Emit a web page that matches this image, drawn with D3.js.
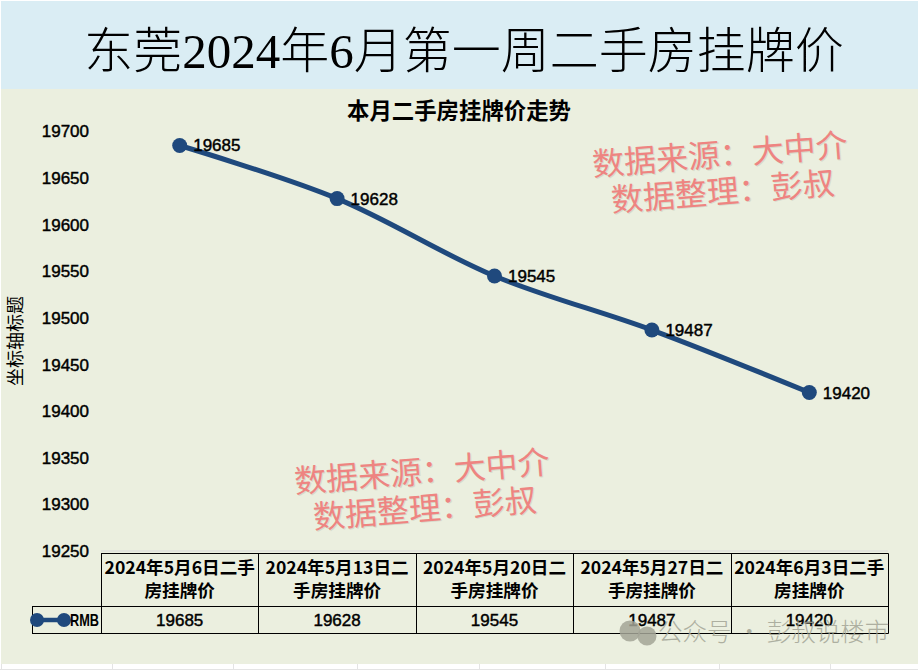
<!DOCTYPE html>
<html><head><meta charset="utf-8">
<script src="https://cdn.jsdelivr.net/npm/d3@7/dist/d3.min.js"></script>
<style>html,body{margin:0;padding:0;background:#fff;overflow:hidden}svg{display:block}</style>
</head><body><svg id="c" width="918" height="671"></svg>
<script>
const chartTitle = "东莞2024年6月第一周二手房挂牌价";
const subTitle = "本月二手房挂牌价走势";
const yAxisTitle = "坐标轴标题";
const seriesName = "RMB";
const categories = ["2024年5月6日二手房挂牌价","2024年5月13日二手房挂牌价","2024年5月20日二手房挂牌价","2024年5月27日二手房挂牌价","2024年6月3日二手房挂牌价"];
const categoryLines = [["2024年5月6日二手","房挂牌价"],["2024年5月13日二","手房挂牌价"],["2024年5月20日二","手房挂牌价"],["2024年5月27日二","手房挂牌价"],["2024年6月3日二手","房挂牌价"]];
const values = [19685,19628,19545,19487,19420];
const yTicks = [19700,19650,19600,19550,19500,19450,19400,19350,19300,19250];
const noteLines = [["数据来源：大中介","数据整理：彭叔"]];

const CJK = "'Noto Sans CJK SC','Noto Sans',sans-serif";
const BLUE = "#1f497d";
const svg = d3.select("#c");

svg.append("rect").attr("x",1).attr("y",1).attr("width",917).attr("height",90).attr("fill","#daedf4");
svg.append("rect").attr("x",1).attr("y",89).attr("width",917).attr("height",575).attr("fill","#ebefdf");
[1,112,233,357,479,605,719,830].forEach(x=>svg.append("line").attr("x1",x+.5).attr("x2",x+.5).attr("y1",664).attr("y2",670).attr("stroke","#e4e4e4"));
svg.append("line").attr("x1",0).attr("x2",918).attr("y1",669.5).attr("y2",669.5).attr("stroke","#e4e4e4");

svg.append("text").attr("x",464).attr("y",68).attr("text-anchor","middle")
  .attr("font-family","'Liberation Serif','Noto Sans CJK SC',serif").attr("font-size",49).attr("font-weight",300)
  .attr("fill","#000").text(chartTitle);
svg.append("text").attr("x",459).attr("y",119).attr("text-anchor","middle")
  .attr("font-family",CJK).attr("font-size",22.4).attr("font-weight",700).attr("fill","#000").text(subTitle);

const x = d3.scaleBand().domain(categories).range([101,888]);
const y = d3.scaleLinear().domain([19250,19700]).range([551,131.5]);

const axis = d3.axisLeft(y).tickValues(yTicks).tickSize(0).tickPadding(0).tickFormat(d3.format("d"));
const gA = svg.append("g").attr("transform","translate(89,0)").call(axis);
gA.select(".domain").remove();
gA.selectAll("text").attr("font-family","'Liberation Sans','Noto Sans',sans-serif").attr("font-size",17)
  .attr("fill","#000").attr("stroke","#000").attr("stroke-width",.45);

svg.append("text").attr("transform","translate(22,341) rotate(-90)").attr("text-anchor","middle")
  .attr("font-family",CJK).attr("font-size",18).attr("fill","#000").text(yAxisTitle);

svg.append("line").attr("x1",101).attr("x2",888).attr("y1",551).attr("y2",551).attr("stroke","#d9d9d9");

const pts = categories.map((c,i)=>[x(c)+x.bandwidth()/2,y(values[i])]);
const line = d3.line().x(d=>d[0]).y(d=>d[1]).curve(d3.curveCatmullRom.alpha(0.5));
svg.append("path").attr("d",line(pts)).attr("fill","none").attr("stroke",BLUE).attr("stroke-width",5).attr("stroke-linecap","round");
svg.selectAll("circle.pt").data(pts).join("circle").attr("class","pt").attr("cx",d=>d[0]).attr("cy",d=>d[1]).attr("r",7.5).attr("fill",BLUE);
svg.selectAll("text.dl").data(pts).join("text").attr("class","dl")
  .attr("x",d=>d[0]+13.5).attr("y",(d)=>d[1]+6).attr("font-family","'Liberation Sans',sans-serif")
  .attr("font-size",17).attr("fill","#000").attr("stroke","#000").attr("stroke-width",.45).text((d,i)=>values[i]);

const T = svg.append("g");
const rowY = [553.5,606.5,633.5];
const tl = (x1,y1,x2,y2)=>T.append("line").attr("x1",x1).attr("y1",y1).attr("x2",x2).attr("y2",y2).attr("stroke","#000").attr("stroke-width",1);
tl(101,rowY[0],888.5,rowY[0]);
tl(32,rowY[1],888.5,rowY[1]);
tl(32,rowY[2],888.5,rowY[2]);
tl(32.5,rowY[1],32.5,rowY[2]);
categories.forEach(c=>tl(Math.round(x(c))+.5,rowY[0],Math.round(x(c))+.5,rowY[2]));
tl(888.5,rowY[0],888.5,rowY[2]);
categories.forEach((c,i)=>{
  const cx=x(c)+x.bandwidth()/2;
  categoryLines[i].forEach((s,j)=>T.append("text").attr("x",cx).attr("y",574+j*23).attr("text-anchor","middle")
    .attr("font-family","'Noto Sans CJK SC',sans-serif").attr("font-size",17.6).attr("font-weight",700).attr("fill","#000").text(s));
  T.append("text").attr("x",cx).attr("y",626).attr("text-anchor","middle").attr("font-family","'Liberation Sans',sans-serif")
    .attr("font-size",17).attr("fill","#000").attr("stroke","#000").attr("stroke-width",.45).text(values[i]);
});
svg.append("line").attr("x1",37).attr("x2",64).attr("y1",620).attr("y2",620).attr("stroke",BLUE).attr("stroke-width",4.5);
[37,64].forEach(cx=>svg.append("circle").attr("cx",cx).attr("cy",620).attr("r",7).attr("fill",BLUE));
svg.append("text").attr("x",99).attr("y",626).attr("text-anchor","end").attr("font-family","'Liberation Sans',sans-serif")
  .attr("font-size",17).attr("font-weight",700).attr("textLength",29).attr("lengthAdjust","spacingAndGlyphs").attr("fill","#000").text(seriesName);

function note(cx,cy){
  const g=svg.append("g").attr("transform",`translate(${cx},${cy}) rotate(-4.5)`);
  const [a,b]=noteLines[0];
  [[a,-16],[b,21]].forEach(([s,dy])=>{
    g.append("text").attr("x",1).attr("y",dy+1).attr("text-anchor","middle").attr("font-family",CJK).attr("font-size",32).attr("font-weight",400).attr("fill","#c9cdbc").attr("opacity",.6).text(s);
    g.append("text").attr("x",0).attr("y",dy).attr("text-anchor","middle").attr("font-family",CJK).attr("font-size",32).attr("font-weight",400).attr("fill","#ee8481").text(s);
  });
}
note(722,182);
note(424,499);

const wm = svg.append("g");
[[630,631,10.5],[647,636,9.5]].forEach(([cx,cy,r])=>wm.append("circle").attr("cx",cx).attr("cy",cy).attr("r",r).attr("fill","#a3a596").attr("opacity",.85));
wm.append("text").attr("x",658).attr("y",641).attr("font-family",CJK).attr("font-size",24.5).attr("font-weight",300).attr("fill","#a3a596").attr("opacity",.85).text("公众号 · 彭叔说楼市");
</script></body></html>
